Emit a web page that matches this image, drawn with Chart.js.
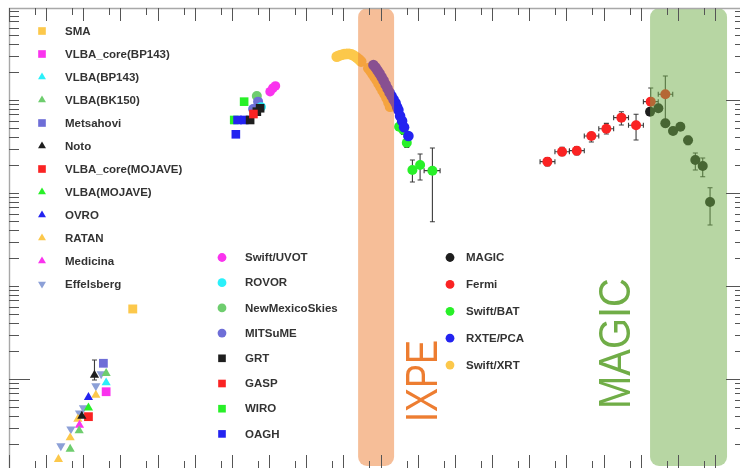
<!DOCTYPE html>
<html>
<head>
<meta charset="utf-8">
<script src="https://cdn.jsdelivr.net/npm/chart.js@4.4.1/dist/chart.umd.min.js"></script>
<style>
  html, body { margin: 0; padding: 0; background: #fff; }
  canvas { display: block; }
</style>
</head>
<body>
<canvas id="sed" width="740" height="468"></canvas>
<script>
// Broadband SED. Every point is [log10(nu / Hz), log10(nu F_nu)].

// Radio
const SMA              = [[11.33, -12.247]];
const VLBA_CORE_BP143  = [[10.614, -13.137]];
const VLBA_BP143       = [[10.614, -13.040]];
const VLBA_BK150       = [[9.646, -13.753], [9.888, -13.556], [10.614, -12.939]];
const METSAHOVI        = [[10.54, -12.831]];
const NOTO             = [[9.960, -13.398], [10.300, -12.957]];
const NOTO_ERR_Y       = [null, [-13.011, -12.796]];
const VLBA_CORE_MOJAVE = [[10.138, -13.405]];
const VLBA_MOJAVE      = [[10.138, -13.309]];
const OVRO             = [[10.138, -13.197]];
const RATAN            = [[9.331, -13.863], [9.646, -13.631], [9.853, -13.430], [10.337, -13.172]];
const MEDICINA         = [[9.896, -13.495]];
const EFFELSBERG       = [[9.395, -13.720], [9.665, -13.538], [9.896, -13.366], [10.003, -13.312], [10.337, -13.075], [10.48, -12.946]];

// Optical / UV
const SWIFT_UVOT       = [[15.026, -9.911], [15.099, -9.874], [15.169, -9.849]];
const ROVOR            = [[14.784, -10.075]];
const NEW_MEXICO_SKIES = [[14.669, -9.957]];
const MITSUME          = [[14.569, -10.097], [14.703, -10.018]];
const GRT              = [[14.488, -10.215], [14.669, -10.126], [14.757, -10.089]];
const GASP             = [[14.577, -10.151]];
const WIRO             = [[14.060, -10.215], [14.327, -10.018]];
const OAGH             = [[14.104, -10.369], [14.150, -10.215], [14.330, -10.215]];

// X-ray
const SWIFT_XRT = [
  [16.821, -9.534], [16.883, -9.522], [16.950, -9.514], [17.017, -9.508], [17.090, -9.505],
  [17.152, -9.505], [17.219, -9.511], [17.286, -9.524], [17.353, -9.543], [17.421, -9.565],
  [17.475, -9.586], [17.671, -9.659], [17.730, -9.688], [17.784, -9.720], [17.838, -9.753],
  [17.892, -9.785], [17.945, -9.823], [17.999, -9.860], [18.053, -9.898], [18.107, -9.935],
  [18.161, -9.978], [18.214, -10.027], [18.255, -10.072]
];
const RXTE_PCA = [
  [17.806, -9.624], [17.865, -9.651], [17.918, -9.683], [17.972, -9.715], [18.026, -9.753],
  [18.080, -9.790], [18.134, -9.833], [18.187, -9.876], [18.241, -9.919], [18.295, -9.957],
  [18.349, -9.995], [18.403, -10.032], [18.443, -10.075], [18.478, -10.108], [18.524, -10.172],
  [18.578, -10.226], [18.631, -10.294], [18.747, -10.387]
];
const SWIFT_BAT       = [[18.497, -10.287], [18.613, -10.323], [18.704, -10.459], [18.855, -10.753], [19.062, -10.699], [19.393, -10.760]];
const SWIFT_BAT_ERR_Y = [[-10.32, -10.25], [-10.37, -10.28], [-10.51, -10.41], [-10.882, -10.645], [-10.860, -10.581], [-11.309, -10.516]];
const SWIFT_BAT_ERR_X = [null, null, null, null, null, [19.17, 19.60]];

// Gamma-ray
const FERMI = [
  [22.487, -10.663], [22.882, -10.556], [23.278, -10.545], [23.670, -10.387], [24.074, -10.309],
  [24.478, -10.190], [24.873, -10.272], [25.268, -10.018], [25.661, -9.939]
];
const FERMI_ERR_X = [
  [22.29, 22.69], [22.69, 23.08], [23.08, 23.48], [23.48, 23.87], [23.87, 24.27],
  [24.27, 24.67], [24.67, 25.07], [25.07, 25.47], [25.47, 25.86]
];
const FERMI_ERR_Y = [
  [-10.71, -10.62], [-10.60, -10.51], [-10.59, -10.50], [-10.452, -10.355], [-10.366, -10.251],
  [-10.269, -10.126], [-10.430, -10.154], [-10.161, -9.871], [-10.247, -9.742]
];
const MAGIC = [
  [25.250, -10.126], [25.473, -10.089], [25.661, -10.251], [25.868, -10.333], [26.065, -10.287],
  [26.272, -10.433], [26.468, -10.645], [26.667, -10.710], [26.864, -11.097]
];
const MAGIC_ERR_Y = [
  [-10.16, -10.09], [-10.12, -10.06], [-10.29, -10.21], [-10.37, -10.30], [-10.32, -10.25],
  [-10.48, -10.39], [-10.753, -10.570], [-10.825, -10.624], [-11.344, -10.943]
];

// Energy bands of the two instruments (log10 nu)
const IXPE_BAND  = [17.394, 18.362];
const MAGIC_BAND = [25.250, 27.321];

// Legend groups
const LEGEND_RADIO   = ['SMA', 'VLBA_core(BP143)', 'VLBA(BP143)', 'VLBA(BK150)', 'Metsahovi', 'Noto',
                        'VLBA_core(MOJAVE)', 'VLBA(MOJAVE)', 'OVRO', 'RATAN', 'Medicina', 'Effelsberg'];
const LEGEND_OPTICAL = ['Swift/UVOT', 'ROVOR', 'NewMexicoSkies', 'MITSuME', 'GRT', 'GASP', 'WIRO', 'OAGH'];
const LEGEND_HIGH    = ['MAGIC', 'Fermi', 'Swift/BAT', 'RXTE/PCA', 'Swift/XRT'];

// Palette
const C = {
  yellow: '#FCC84B', magenta: '#FA33EE', cyan: '#2AF0FA', lightGreen: '#6ECD6E',
  slate: '#6E6ED7', black: '#1E1E1E', red: '#FA2323', green: '#28F028',
  blue: '#2323F0', steel: '#8CA0D7'
};

const pts = arr => arr.map(([x, y]) => ({ x, y }));
function series(label, data, color, style, radius, extra) {
  return Object.assign({
    label, data: pts(data), backgroundColor: color, borderWidth: 0,
    pointStyle: style, pointRadius: radius, pointHoverRadius: radius, showLine: false
  }, extra || {});
}

// Earlier entries are painted on top.
const datasets = [
  series('Noto', NOTO, C.black, 'triangle', 5.3, { errorY: NOTO_ERR_Y }),
  series('Metsahovi', METSAHOVI, C.slate, 'rect', 6.2),
  series('VLBA_core(BP143)', VLBA_CORE_BP143, C.magenta, 'rect', 6.2),
  series('VLBA(BP143)', VLBA_BP143, C.cyan, 'triangle', 5.3),
  series('VLBA(BK150)', VLBA_BK150, C.lightGreen, 'triangle', 5.3),
  series('VLBA_core(MOJAVE)', VLBA_CORE_MOJAVE, C.red, 'rect', 6.2),
  series('VLBA(MOJAVE)', VLBA_MOJAVE, C.green, 'triangle', 5.3),
  series('OVRO', OVRO, C.blue, 'triangle', 5.3),
  series('Medicina', MEDICINA, C.magenta, 'triangle', 5.3),
  series('RATAN', RATAN, C.yellow, 'triangle', 5.3),
  series('Effelsberg', EFFELSBERG, C.steel, 'triangle', 5.3, { pointRotation: 180 }),
  series('SMA', SMA, C.yellow, 'rect', 6.3),

  series('GASP', GASP, C.red, 'rect', 6.1),
  series('GRT', GRT, C.black, 'rect', 6.1),
  series('OAGH', OAGH, C.blue, 'rect', 6.1),
  series('WIRO', WIRO, C.green, 'rect', 6.1),
  series('ROVOR', ROVOR, C.cyan, 'circle', 4.8),
  series('MITSuME', MITSUME, C.slate, 'circle', 5),
  series('NewMexicoSkies', NEW_MEXICO_SKIES, C.lightGreen, 'circle', 5),
  series('Swift/UVOT', SWIFT_UVOT, C.magenta, 'circle', 4.8),

  series('RXTE/PCA', RXTE_PCA, C.blue, 'circle', 5.3),
  series('Swift/BAT', SWIFT_BAT, C.green, 'circle', 5, { errorY: SWIFT_BAT_ERR_Y, errorX: SWIFT_BAT_ERR_X }),
  series('Swift/XRT', SWIFT_XRT, C.yellow, 'circle', 5.4),
  series('MAGIC', MAGIC, C.black, 'circle', 5, { errorY: MAGIC_ERR_Y }),
  series('Fermi', FERMI, C.red, 'circle', 5, { errorY: FERMI_ERR_Y, errorX: FERMI_ERR_X })
];

function marker(ctx, ds, x, y, r) {
  const opts = { pointStyle: ds.pointStyle, rotation: ds.pointRotation || 0, radius: r, borderWidth: 0 };
  ctx.fillStyle = ds.backgroundColor;
  ctx.strokeStyle = 'rgba(0,0,0,0)';
  if (Chart.helpers && Chart.helpers.drawPoint) {
    Chart.helpers.drawPoint(ctx, opts, x, y);
    return;
  }
  ctx.beginPath();
  if (opts.pointStyle === 'rect') {
    const s = Math.SQRT1_2 * r; ctx.rect(x - s, y - s, 2 * s, 2 * s);
  } else if (opts.pointStyle === 'triangle') {
    let a = opts.rotation * Math.PI / 180;
    for (let k = 0; k < 3; k++, a += 2 * Math.PI / 3) {
      const px = x + Math.sin(a) * r, py = y - Math.cos(a) * r;
      k ? ctx.lineTo(px, py) : ctx.moveTo(px, py);
    }
    ctx.closePath();
  } else {
    ctx.arc(x, y, r, 0, 2 * Math.PI);
  }
  ctx.fill();
}

// Error bars with small end caps, drawn under the markers
const errorBars = {
  id: 'errorBars',
  beforeDatasetsDraw(chart) {
    const { ctx, scales: { x, y } } = chart;
    ctx.save();
    ctx.strokeStyle = '#3c3c3c';
    ctx.lineWidth = 1.1;
    const cap = 2.5;
    chart.data.datasets.forEach(ds => {
      ds.data.forEach((p, i) => {
        const px = x.getPixelForValue(p.x), py = y.getPixelForValue(p.y);
        const ey = ds.errorY && ds.errorY[i];
        const ex = ds.errorX && ds.errorX[i];
        ctx.beginPath();
        if (ey) {
          const y0 = y.getPixelForValue(ey[0]), y1 = y.getPixelForValue(ey[1]);
          ctx.moveTo(px, y0); ctx.lineTo(px, y1);
          ctx.moveTo(px - cap, y0); ctx.lineTo(px + cap, y0);
          ctx.moveTo(px - cap, y1); ctx.lineTo(px + cap, y1);
        }
        if (ex) {
          const x0 = x.getPixelForValue(ex[0]), x1 = x.getPixelForValue(ex[1]);
          ctx.moveTo(x0, py); ctx.lineTo(x1, py);
          ctx.moveTo(x0, py - cap); ctx.lineTo(x0, py + cap);
          ctx.moveTo(x1, py - cap); ctx.lineTo(x1, py + cap);
        }
        ctx.stroke();
      });
    });
    ctx.restore();
  }
};

// Translucent instrument bands laid over the data, with vertical captions
const bands = {
  id: 'bands',
  afterDatasetsDraw(chart, args, opts) {
    const { ctx, scales: { x, y } } = chart;
    ctx.save();
    opts.items.forEach(b => {
      const x0 = x.getPixelForValue(b.range[0]), x1 = x.getPixelForValue(b.range[1]);
      const y0 = y.getPixelForValue(b.top), y1 = y.getPixelForValue(b.bottom);
      ctx.fillStyle = b.fill;
      ctx.beginPath();
      ctx.roundRect(x0, y0, x1 - x0, y1 - y0, 9);
      ctx.fill();
    });
    opts.items.forEach(b => {
      const bx = x.getPixelForValue(b.labelAt[0]), by = y.getPixelForValue(b.labelAt[1]);
      ctx.save();
      ctx.font = '44px "Liberation Sans", Arial, sans-serif';
      ctx.fillStyle = b.text;
      ctx.textAlign = 'left';
      ctx.textBaseline = 'alphabetic';
      const w = ctx.measureText(b.label).width;
      ctx.translate(bx, by);
      ctx.rotate(-Math.PI / 2);
      ctx.scale(b.labelLength / w, 1);
      ctx.fillText(b.label, 0, 0);
      ctx.restore();
    });
    ctx.restore();
  }
};

// Three free-standing legend blocks
const legends = {
  id: 'legends',
  afterDraw(chart, args, opts) {
    const { ctx } = chart;
    ctx.save();
    ctx.font = 'bold 11.5px "Liberation Sans", Arial, sans-serif';
    ctx.textBaseline = 'middle';
    ctx.textAlign = 'left';
    opts.groups.forEach(g => {
      g.names.forEach((name, i) => {
        const ds = chart.data.datasets.find(d => d.label === name);
        const yy = g.y + i * g.dy;
        const r = ds.pointStyle === 'rect' ? 5.4 : ds.pointStyle === 'triangle' ? 4.6 : 4.4;
        marker(ctx, ds, g.markerX, yy, r);
        ctx.fillStyle = '#333';
        ctx.fillText(name, g.textX, yy + 0.5);
      });
    });
    ctx.restore();
  }
};

// Axis frame with inward log ticks on all four sides
const frameTicks = {
  id: 'frameTicks',
  afterDraw(chart) {
    const { ctx, chartArea: a, scales: { x, y } } = chart;
    ctx.save();
    ctx.strokeStyle = '#a8a8a8';
    ctx.lineWidth = 1.4;
    ctx.beginPath();
    ctx.moveTo(a.left + 0.5, a.bottom);
    ctx.lineTo(a.left + 0.5, a.top + 0.5);
    ctx.lineTo(a.right, a.top + 0.5);
    ctx.stroke();

    ctx.strokeStyle = '#555';
    ctx.lineWidth = 1;
    ctx.beginPath();
    for (let d = Math.floor(x.min); d <= Math.ceil(x.max) + 1; d++) {
      [[d, 13], [d - Math.log10(2), 7]].forEach(([v, len]) => {
        if (v < x.min || v > x.max) return;
        const px = Math.round(x.getPixelForValue(v)) + 0.5;
        ctx.moveTo(px, a.top); ctx.lineTo(px, a.top + len);
        ctx.moveTo(px, a.bottom); ctx.lineTo(px, a.bottom - len);
      });
    }
    for (let d = Math.floor(y.min); d <= Math.ceil(y.max); d++) {
      for (let m = 1; m <= 9; m++) {
        const v = d + Math.log10(m);
        if (v < y.min || v > y.max) continue;
        const py = Math.round(y.getPixelForValue(v)) + 0.5;
        const leftLen = (m === 1 && d === -13) ? 21 : 10;
        const rightLen = m === 1 ? 14 : 5;
        ctx.moveTo(a.left, py); ctx.lineTo(a.left + leftLen, py);
        ctx.moveTo(a.right, py); ctx.lineTo(a.right - rightLen, py);
      }
    }
    ctx.stroke();
    ctx.restore();
  }
};

new Chart(document.getElementById('sed'), {
  type: 'scatter',
  data: { datasets },
  options: {
    responsive: false,
    animation: false,
    events: [],
    layout: { autoPadding: false, padding: { left: 9, top: 8, right: 0, bottom: 0 } },
    scales: {
      x: { type: 'linear', min: 8.0, max: 27.67, display: false },
      y: { type: 'linear', min: -13.957, max: -9.011, display: false }
    },
    plugins: {
      legend: { display: false },
      tooltip: { enabled: false },
      bands: {
        items: [
          { range: IXPE_BAND, top: -9.011, bottom: -13.935, fill: 'rgba(237,125,49,0.5)',
            label: 'IXPE', text: '#ED7D31', labelAt: [19.52, -13.462], labelLength: 82 },
          { range: MAGIC_BAND, top: -9.011, bottom: -13.935, fill: 'rgba(112,173,71,0.5)',
            label: 'MAGIC', text: '#70AD47', labelAt: [24.712, -13.323], labelLength: 131 }
        ]
      },
      legends: {
        groups: [
          { names: LEGEND_RADIO, markerX: 42, textX: 65, y: 31, dy: 23.0 },
          { names: LEGEND_OPTICAL, markerX: 222, textX: 245, y: 257.5, dy: 25.2 },
          { names: LEGEND_HIGH, markerX: 450, textX: 466, y: 257.5, dy: 26.9 }
        ]
      }
    }
  },
  plugins: [errorBars, bands, legends, frameTicks]
});
</script>
</body>
</html>
